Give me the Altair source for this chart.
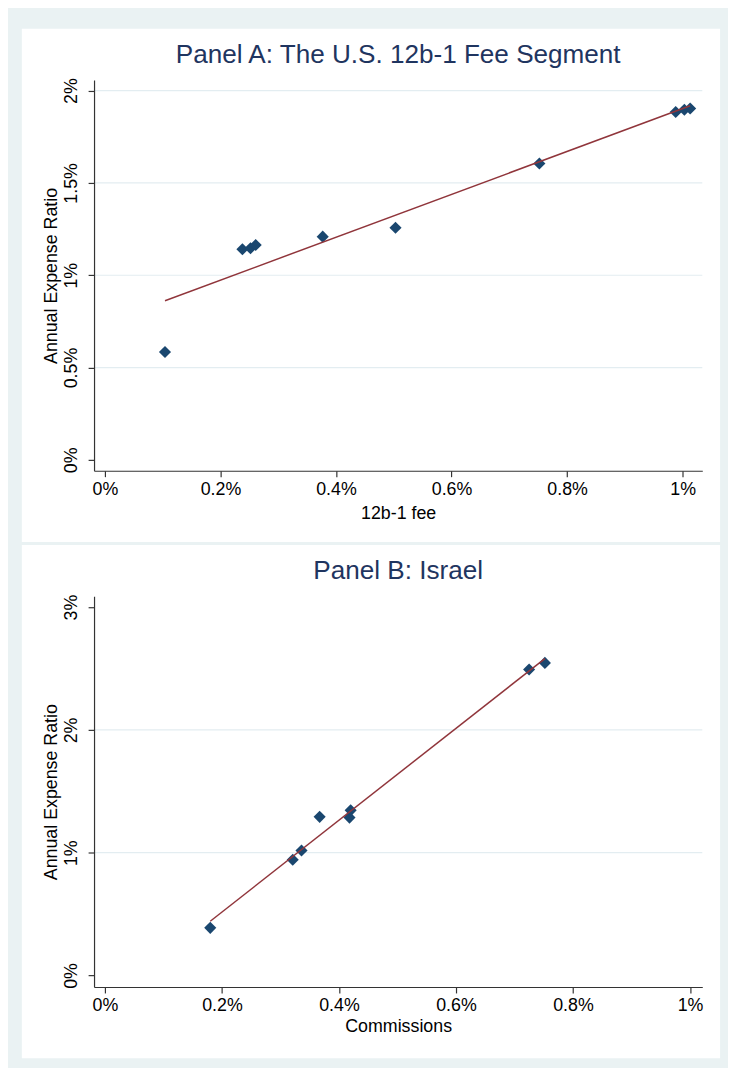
import altair as alt
import pandas as pd

# ---------------- data ----------------
# Panel A: The U.S. 12b-1 Fee Segment
a_fee = [0.104, 0.238, 0.252, 0.261, 0.377, 0.503, 0.752, 0.988, 1.003, 1.013]
a_ratio = [0.584, 1.141, 1.146, 1.164, 1.209, 1.257, 1.605, 1.884, 1.896, 1.903]
# Panel B: Israel
b_comm = [0.180, 0.321, 0.336, 0.367, 0.418, 0.420, 0.725, 0.752]
b_ratio = [0.388, 0.943, 1.018, 1.292, 1.286, 1.345, 2.492, 2.546]

a_xticks = [0, 0.2, 0.4, 0.6, 0.8, 1]
a_yticks = [0, 0.5, 1, 1.5, 2]
a_grid = [0.5, 1, 1.5, 2]
b_xticks = [0, 0.2, 0.4, 0.6, 0.8, 1]
b_yticks = [0, 1, 2, 3]
b_grid = [1, 2]

titles = ["Panel A: The U.S. 12b-1 Fee Segment", "Panel B: Israel"]
x_titles = ["12b-1 fee", "Commissions"]
y_title = "Annual Expense Ratio"

# ---------------- style ----------------
FONT = "Liberation Sans"
OUTER = "#eaf2f3"
GRID = "#e3edf1"
NAVY = "#1a476f"
MAROON = "#90353b"
TITLE_COL = "#1f3560"
AXIS_COL = "#333333"
W, H = 615, 395


def panel(xs, ys, xdom, ydom, xticks, yticks, grid, xtitle, title, xtitle_pad):
    df = pd.DataFrame({"x": xs, "y": ys})
    gdf = pd.DataFrame({"y": grid})
    xscale = alt.Scale(domain=xdom, nice=False, zero=False)
    yscale = alt.Scale(domain=ydom, nice=False, zero=False)
    xaxis = alt.Axis(
        values=xticks, labelExpr="datum.value + '%'", grid=False, zindex=1,
        domainColor=AXIS_COL, domainWidth=1.2, tickColor=AXIS_COL, tickWidth=1.2,
        tickSize=6, labelFontSize=18, labelFont=FONT, labelColor="black",
        labelPadding=4, title=xtitle, titleFont=FONT, titleFontSize=18,
        titleFontWeight="normal", titleColor="black", titlePadding=xtitle_pad,
    )
    yaxis = alt.Axis(
        values=yticks, labelExpr="datum.value + '%'", grid=False, zindex=1,
        domainColor=AXIS_COL, domainWidth=1.2, tickColor=AXIS_COL, tickWidth=1.2,
        tickSize=6, labelFontSize=18, labelFont=FONT, labelColor="black",
        labelAngle=270, labelAlign="center", labelBaseline="bottom",
        labelPadding=8, title=y_title, titleFont=FONT, titleFontSize=18,
        titleFontWeight="normal", titleColor="black", titlePadding=2,
    )
    bg = alt.Chart(pd.DataFrame({"k": [0]})).mark_rect(color="white").encode(
        x=alt.value(-73), x2=alt.value(W + 18), y=alt.value(-52), y2=alt.value(H + 72)
    )
    rules = alt.Chart(gdf).mark_rule(color=GRID, strokeWidth=1.2).encode(
        y=alt.Y("y:Q", scale=yscale, axis=yaxis)
    )
    pts = alt.Chart(df).mark_point(
        shape="diamond", filled=True, size=150, color=NAVY, opacity=1
    ).encode(
        x=alt.X("x:Q", scale=xscale, axis=xaxis),
        y=alt.Y("y:Q", scale=yscale, axis=yaxis),
    )
    fit = alt.Chart(df).transform_regression("x", "y").mark_line(
        color=MAROON, strokeWidth=1.5
    ).encode(
        x=alt.X("x:Q", scale=xscale, axis=xaxis),
        y=alt.Y("y:Q", scale=yscale, axis=yaxis),
    )
    return alt.layer(bg, rules, pts, fit).properties(
        width=W, height=H,
        title=alt.TitleParams(
            text=title, font=FONT, fontSize=26.4, fontWeight="normal",
            color=TITLE_COL, anchor="middle", frame="group",
            baseline="alphabetic", offset=-61,
        ),
    )


pa = panel(a_fee, a_ratio, [-0.0188, 1.034], [-0.059, 2.057], a_xticks, a_yticks,
           a_grid, x_titles[0], titles[0], 6)
pb = panel(b_comm, b_ratio, [-0.0186, 1.021], [-0.094, 3.088], b_xticks, b_yticks,
           b_grid, x_titles[1], titles[1], 3)

chart = alt.vconcat(pa, pb, spacing=3).properties(
    background=OUTER,
    padding={"left": 14, "top": 15, "right": 8, "bottom": 4},
).configure_view(stroke=None)

chart.save("out.html", embed_options={"renderer": "svg", "actions": False})
